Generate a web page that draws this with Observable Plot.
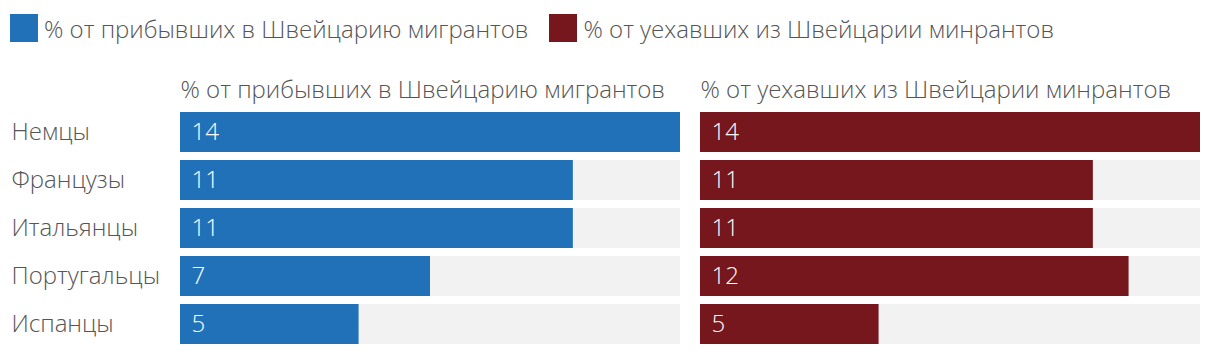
<!DOCTYPE html>
<html>
<head>
<meta charset="utf-8">
<script src="https://cdn.jsdelivr.net/npm/d3@7"></script>
<script src="https://cdn.jsdelivr.net/npm/@observablehq/plot@0.6"></script>
<style>
  html, body { margin: 0; padding: 0; background: #fff; }
  body { width: 1220px; height: 356px; overflow: hidden; font-family: "Open Sans", sans-serif; font-weight: 300; color: #555; }
  #legend { height: 52px; display: flex; align-items: center; padding-left: 10px; padding-top: 4px; box-sizing: border-box; font-size: 24px; }
  .item { display: flex; align-items: center; margin-right: 21px; }
  .sw { width: 28px; height: 28px; margin-right: 6px; }
  svg text { font-family: "Open Sans", sans-serif; font-weight: 300; }
</style>
</head>
<body>
<div id="legend"></div>
<div id="chart"></div>
<script>
const categories = ["Немцы", "Французы", "Итальянцы", "Португальцы", "Испанцы"];
const series = ["% от прибывших в Швейцарию мигрантов", "% от уехавших из Швейцарии минрантов"];
const arrived = [14, 11, 11, 7, 5];
const departed = [14, 11, 11, 12, 5];
const colors = ["#2171b9", "#76161d"];
const xMax = 14;

const data = [];
categories.forEach((c, i) => {
  data.push({category: c, series: series[0], value: arrived[i]});
  data.push({category: c, series: series[1], value: departed[i]});
});

const legend = document.getElementById("legend");
series.forEach((s, i) => {
  const it = document.createElement("div");
  it.className = "item";
  it.innerHTML = `<div class="sw" style="background:${colors[i]}"></div><span>${s}</span>`;
  legend.appendChild(it);
});

const chart = Plot.plot({
  width: 1220,
  height: 304,
  marginLeft: 180,
  marginRight: 20,
  marginTop: 56,
  marginBottom: 8,
  style: {fontSize: "24px", color: "#555", fontFamily: "Open Sans, sans-serif"},
  fx: {domain: series, paddingInner: 20 / 520, paddingOuter: 0, round: false, axis: null},
  x: {domain: [0, xMax], axis: null},
  y: {domain: categories, paddingInner: 1 / 6, paddingOuter: 1 / 12, round: false, label: null},
  color: {domain: series, range: colors},
  marks: [
    Plot.barX(data, {fx: "series", y: "category", x1: 0, x2: () => xMax, fill: "#f2f2f2"}),
    Plot.barX(data, {fx: "series", y: "category", x: "value", fill: "series"}),
    Plot.text(data, {fx: "series", y: "category", x: 0, text: d => String(d.value), textAnchor: "start", dx: 11, fill: "white", fontSize: 24}),
    Plot.text(series, {fx: d => d, text: d => d, frameAnchor: "top-left", textAnchor: "start", dy: -28, fill: "#555", fontSize: 24}),
    Plot.axisY({tickSize: 0, textAnchor: "start", dx: -160, fontSize: 24, fill: "#555"})
  ]
});
document.getElementById("chart").appendChild(chart);
</script>
</body>
</html>
